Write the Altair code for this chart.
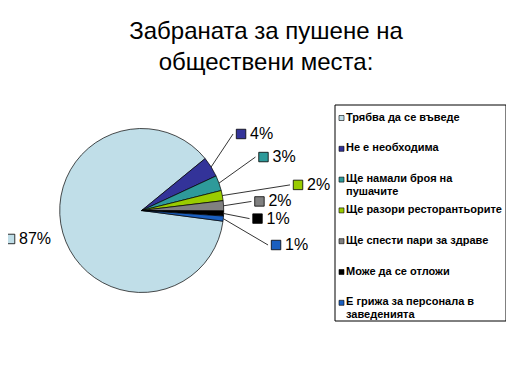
import math
import altair as alt
import pandas as pd

# ---- data ----
categories = [
    "Трябва да се въведе",
    "Не е необходима",
    "Ще намали броя на\nпушачите",
    "Ще разори ресторантьорите",
    "Ще спести пари за здраве",
    "Може да се отложи",
    "Е грижа за персонала в\nзаведенията",
]
values = [87, 4, 3, 2, 2, 1, 1]
colors = ["#C0DEE8", "#333399", "#2E9A9A", "#99CC00", "#808080", "#000000", "#1A5FBF"]

# ---- layout (pixels inside the 498x352 chart) ----
W, H = 498, 352
CX, CY, R = 133.7, 202.5, 82
START_DEG = 97.5
label_angle = [257.8, 52.4, 66.3, 80.7, 85.6, 94.0, 104.4]
label_radius = [134.7, 125.4, 133.0, 158.4, 118.1, 116.1, 138.7]
has_line = [False, True, True, True, True, True, True]
LEG_X, LEG_Y0, LEG_STEP = 333.5, 110, 30.8

total = sum(values)
rows = []
seg_rows = []
cum = 0
for i, (c, v) in enumerate(zip(categories, values)):
    mid = START_DEG + (cum + v / 2) / total * 360
    cum += v
    a = math.radians(mid)
    sx, sy = CX + R * math.sin(a), CY - R * math.cos(a)
    la = math.radians(label_angle[i])
    mx = CX + label_radius[i] * math.sin(la)
    my = CY - label_radius[i] * math.cos(la)
    ly = LEG_Y0 + i * LEG_STEP
    rows.append(dict(
        cat=c, val=v, order=i, pct=f"{v}%",
        mx=mx, my=my, tx=mx + 9,
        lx=LEG_X, ly=ly, lty=ly - 6.5, ltx=LEG_X + 4.5,
    ))
    if has_line[i]:
        seg_rows.append(dict(seg=i, k=0, px=sx, py=sy))
        seg_rows.append(dict(seg=i, k=1, px=mx - 8, py=my))
df = pd.DataFrame(rows)
seg_df = pd.DataFrame(seg_rows)

color_scale = alt.Scale(domain=categories, range=colors)
start = math.radians(START_DEG)

def px(field):
    return alt.X(field, type="quantitative", scale=None, axis=None)

def py(field):
    return alt.Y(field, type="quantitative", scale=None, axis=None)

base = alt.Chart(df)

pie = base.mark_arc(stroke="black", strokeWidth=0.7, outerRadius=R).encode(
    theta=alt.Theta("val:Q", stack=True, scale=alt.Scale(range=[start, start + 2 * math.pi])),
    color=alt.Color("cat:N", scale=color_scale, legend=None),
    order=alt.Order("order:Q"),
    x=alt.value(CX), y=alt.value(CY),
)

lines = alt.Chart(seg_df).mark_line(color="black", strokeWidth=0.8).encode(
    x=px("px"), y=py("py"), detail="seg:N", order="k:Q",
)

markers = base.mark_square(size=90, stroke="black", strokeWidth=0.8, opacity=1, filled=True).encode(
    x=px("mx"), y=py("my"),
    color=alt.Color("cat:N", scale=color_scale, legend=None),
)

pct_text = base.mark_text(align="left", baseline="middle", font="Liberation Sans", fontSize=16, color="black").encode(
    x=px("tx"), y=py("my"), text="pct:N",
)

# legend box
box = alt.Chart(pd.DataFrame({"a": [0]})).mark_rect(fill="white", stroke="black", strokeWidth=1).encode(
    x=alt.value(327), x2=alt.value(498), y=alt.value(97), y2=alt.value(313),
)
leg_markers = base.mark_square(size=25, stroke="black", strokeWidth=0.6, opacity=1, filled=True).encode(
    x=px("lx"), y=py("ly"),
    color=alt.Color("cat:N", scale=color_scale, legend=None),
)
leg_text = base.transform_calculate(lines_="split(datum.cat, '\\n')").mark_text(
    align="left", baseline="top", font="Liberation Sans", fontSize=11, fontWeight="bold",
    color="black", lineHeight=12.5,
).encode(
    x=px("ltx"), y=py("lty"), text="lines_:N",
)

title_df = pd.DataFrame({"t": ["Забраната за пушене на", "обществени места:"], "ty": [24, 55]})
title = alt.Chart(title_df).mark_text(
    align="center", baseline="middle", font="Liberation Sans", fontSize=24, color="black",
).encode(x=alt.value(258), y=py("ty"), text="t:N")

chart = alt.layer(pie, lines, markers, pct_text, box, leg_markers, leg_text, title).properties(
    width=W, height=H, autosize=alt.AutoSizeParams(type="none"), padding=0, background="white",
).configure_view(stroke=None)

chart.save("out.html", embed_options={"renderer": "svg", "actions": False})
